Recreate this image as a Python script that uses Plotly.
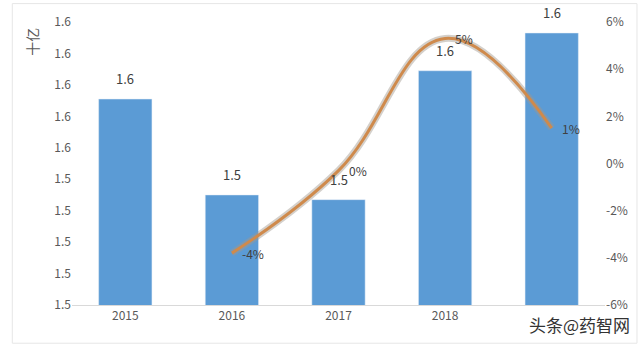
import plotly.graph_objects as go

categories = ["2015", "2016", "2017", "2018", "2019"]
tick_labels = ["2015", "2016", "2017", "2018", ""]
bar_values = [1.591, 1.530, 1.527, 1.609, 1.633]
bar_labels = ["1.6", "1.5", "1.5", "1.6", "1.6"]
growth_x = ["2016", "2017", "2018", "2019"]
growth_values = [-0.038, -0.003, 0.053, 0.015]
growth_labels = ["-4%", "0%", "5%", "1%"]
left_ticks = [1.46, 1.48, 1.50, 1.52, 1.54, 1.56, 1.58, 1.60, 1.62, 1.64]
right_ticks = [-0.06, -0.04, -0.02, 0, 0.02, 0.04, 0.06]

font_family = "Noto Sans CJK SC, Noto Sans, sans-serif"
grey = "#595959"

fig = go.Figure()
fig.add_trace(go.Bar(
    x=categories, y=bar_values, marker_color="#5B9BD5", width=0.5,
    showlegend=False,
))
# glow
fig.add_trace(go.Scatter(
    x=growth_x, y=growth_values, yaxis="y2", mode="lines",
    line=dict(shape="spline", smoothing=1.2, width=7, color="rgba(160,150,140,0.45)"),
    showlegend=False, hoverinfo="skip",
))
fig.add_trace(go.Scatter(
    x=growth_x, y=growth_values, yaxis="y2", mode="lines",
    line=dict(shape="spline", smoothing=1.2, width=3, color="#CF8A4C"),
    showlegend=False,
))

annotations = []
for c, v, t in zip(categories, bar_values, bar_labels):
    annotations.append(dict(x=categories.index(c), y=v, xref="x", yref="y", text=t,
                            showarrow=False, yanchor="bottom", yshift=9,
                            font=dict(size=13, color="#404040")))
for c, v, t in zip(growth_x, growth_values, growth_labels):
    annotations.append(dict(x=categories.index(c), y=v, xref="x", yref="y2", text=t,
                            showarrow=False, xanchor="left", yanchor="middle", xshift=8,
                            font=dict(size=12, color="#404040")))
annotations += [
    dict(text="十亿", xref="paper", yref="paper", x=-0.075, y=0.93,
         xanchor="center", yanchor="middle", textangle=-90, showarrow=False,
         font=dict(size=14, color=grey)),
    dict(text="头条@药智网", xref="paper", yref="paper", x=1.05, y=-0.07,
         xanchor="right", yanchor="middle", showarrow=False,
         font=dict(size=17, color="#333333")),
]

fig.update_layout(
    width=640, height=345,
    margin=dict(l=72, r=35, t=18, b=40),
    paper_bgcolor="white", plot_bgcolor="white",
    font=dict(family=font_family, color=grey, size=12),
    bargap=0.5,
    xaxis=dict(
        type="category", categoryorder="array", categoryarray=categories,
        range=[-0.5, len(categories) - 0.5],
        tickvals=categories, ticktext=tick_labels,
        showline=True, linecolor="#D9D9D9", linewidth=1,
        showgrid=False, ticks="", tickfont=dict(size=12, color=grey),
    ),
    yaxis=dict(
        range=[1.46, 1.64], tickvals=left_ticks,
        ticktext=[f"{v:.1f}" for v in left_ticks],
        showgrid=False, zeroline=False, showline=False, ticks="",
        tickfont=dict(size=12, color=grey),
    ),
    yaxis2=dict(
        overlaying="y", side="right", range=[-0.06, 0.06],
        tickvals=right_ticks, ticktext=[f"{round(v*100)}%" for v in right_ticks],
        showgrid=False, zeroline=False, showline=False, ticks="",
        tickfont=dict(size=12, color=grey),
    ),
    annotations=annotations,
    shapes=[dict(type="rect", xref="paper", yref="paper", x0=-0.112, x1=1.06,
                 y0=-0.135, y1=1.065, line=dict(color="#E6E6E6", width=1))],
)

fig.write_html("out.html")
